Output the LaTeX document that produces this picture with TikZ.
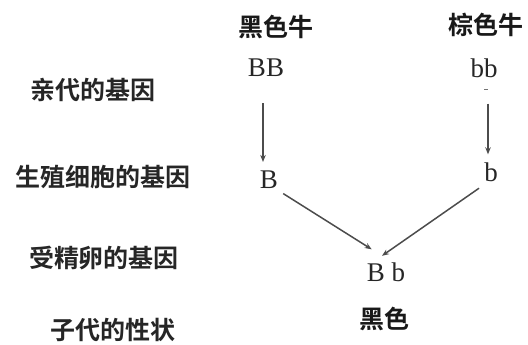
\documentclass[tikz,border=0pt]{standalone}
\usepackage{fontspec}
\setmainfont{Liberation Serif}
\newfontfamily\cjkb[BoldFont={* Bold}]{Noto Sans CJK SC}
\usetikzlibrary{calc,arrows.meta}
\begin{document}
\begin{tikzpicture}[x=1pt,y=-1pt,
  lab/.style={inner sep=0pt,font=\cjkb\bfseries\fontsize{25}{25}\selectfont,text=black!85},
  head/.style={inner sep=0pt,font=\cjkb\bfseries\fontsize{25}{25}\selectfont,text=black!90},
  gene/.style={inner sep=0pt,font=\fontsize{27}{27}\selectfont,text=black!85},
  arr/.style={draw=black!70,line width=1.5pt,-{Stealth[length=7pt,width=5.5pt]}}]
\useasboundingbox (0,0) rectangle (528,345);
% left labels
\node[lab] (l1) at (93,90) {亲代的基因};
\node[lab] (l2) at (103,177) {生殖细胞的基因};
\node[lab] (l3) at (104,258) {受精卵的基因};
\node[lab] (l4) at (113,330) {子代的性状};
% headers
\node[head] (h1) at (276,27) {黑色牛};
\node[head] (h2) at (486,25) {棕色牛};
% genes
\node[gene] (BB) at (266,68) {BB};
\node[gene] (bb) at (484,68) {bb};
\node[gene] (B) at (269,180) {B};
\node[gene] (b) at (491,172) {b};
\node[gene] (Bb) at (386,272) {B b};
\node[head] (res) at (384,319) {黑色};
% small mark
\draw[black!55,line width=1pt] (484,90) -- (488,90);
% arrows
\draw[arr] ($(BB.south)+(-3,26)$) -- ($(B.north)+(-6,-9)$);
\draw[arr] ($(bb.south)+(4,26)$) -- ($(b.north)+(-3,-8)$);
\draw[arr] ($(B.south east)+(5,4.5)$) -- ($(Bb.north west)+(5,-13)$);
\draw[arr] ($(b.south west)+(-5,6.5)$) -- ($(Bb.north)+(-4,-6.5)$);
\end{tikzpicture}
\end{document}
